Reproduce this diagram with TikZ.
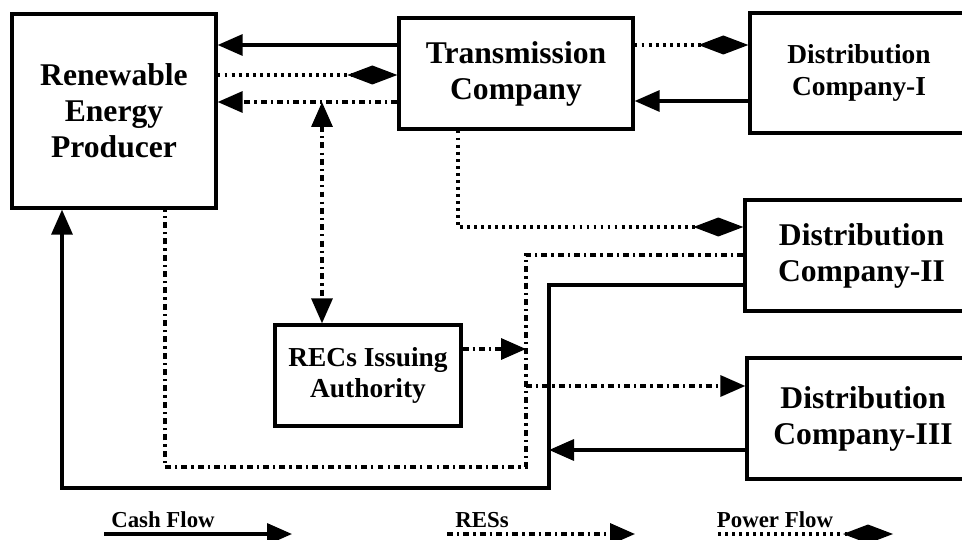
\documentclass[tikz,border=0pt]{standalone}
\usepackage{fontspec}
\setmainfont{Liberation Serif}
\usetikzlibrary{arrows.meta}
\begin{document}
\begin{tikzpicture}[x=0.02cm,y=-0.02cm,
  box/.style={draw,line width=1.9pt,inner sep=0pt,align=center,font=\bfseries},
  big/.style={font=\fontsize{18}{20.5}\selectfont\bfseries},
  small/.style={font=\fontsize{15.6}{18.1}\selectfont\bfseries},
  tri/.tip={Triangle[length=0.5cm,width=0.42cm]},
  dia/.tip={Diamond[length=1cm,width=0.38cm]},
  cash/.style={line width=1.9pt,-tri},
  res/.style={line width=1.9pt,dash pattern=on 3.4pt off 2.3pt on 1.3pt off 2.3pt,-tri},
  power/.style={line width=1.9pt,dash pattern=on 1.6pt off 2.4pt,-dia},
  legend/.style={font=\fontsize{13}{15}\selectfont\bfseries}]
\useasboundingbox (0,0) rectangle (962,540);
\clip (0,0) rectangle (962,540);
% boxes
\node[box,big,minimum width=4.08cm,minimum height=3.88cm] (REP) at (114,111) {Renewable\\Energy\\Producer};
\node[box,big,minimum width=4.68cm,minimum height=2.22cm] (TC) at (516,73.5) {Transmission\\Company};
\node[box,small,minimum width=4.36cm,minimum height=2.4cm] (DC1) at (859,73) {Distribution\\Company-I};
\node[box,big,minimum width=4.66cm,minimum height=2.22cm] (DC2) at (861.5,255.5) {Distribution\\Company-II};
\node[box,big,minimum width=4.64cm,minimum height=2.42cm] (DC3) at (863,418.5) {Distribution\\Company-III};
\node[box,small,minimum width=3.72cm,minimum height=2.02cm] (REC) at (368,375.5) {RECs Issuing\\Authority};
% junctions
\coordinate (j1) at (322,102);
\coordinate (r1) at (526,255);
\coordinate (r2) at (526,467);
\coordinate (r3) at (165,467);
\coordinate (r4) at (526,349);
\coordinate (r5) at (526,386);
\coordinate (p1) at (458,227);
\coordinate (c1) at (549,285);
\coordinate (c2) at (549,488);
\coordinate (c3) at (62,488);
\coordinate (c4) at (549,450);
% connectors
\draw[cash] (TC.west |- 0,45) -- (REP.east |- 0,45);
\draw[power] (REP.east |- 0,75) -- (TC.west |- 0,75);
\draw[res] (TC.west |- 0,102) -- (REP.east |- 0,102);
\draw[res,tri-tri] (j1) -- (REC.north -| j1);
\draw[power] (TC.east |- 0,45) -- (DC1.west |- 0,45);
\draw[cash] (DC1.west |- 0,101) -- (TC.east |- 0,101);
\draw[power] (TC.south -| p1) -- (p1) -- (DC2.west |- p1);
\draw[res,-] (DC2.west |- r1) -- (r1) -- (r2) -- (r3) -- (REP.south -| r3);
\draw[res] (REC.east |- r4) -- (r4);
\draw[res] (r5) -- (DC3.west |- r5);
\draw[cash] (DC2.west |- c1) -- (c1) -- (c2) -- (c3) -- (REP.south -| c3);
\draw[cash] (DC3.west |- c4) -- (c4);
% legend
\node[legend] (lc) at (163,520) {Cash Flow};
\node[legend] (lr) at (482,520) {RESs};
\node[legend] (lp) at (775,520) {Power Flow};
\coordinate (lc1) at (104,534); \coordinate (lc2) at (292,534);
\coordinate (lr1) at (447,534); \coordinate (lr2) at (635,534);
\coordinate (lp1) at (718,534); \coordinate (lp2) at (893,534);
\draw[cash] (lc1) -- (lc2);
\draw[res] (lr1) -- (lr2);
\draw[power] (lp1) -- (lp2);
\end{tikzpicture}
\end{document}
